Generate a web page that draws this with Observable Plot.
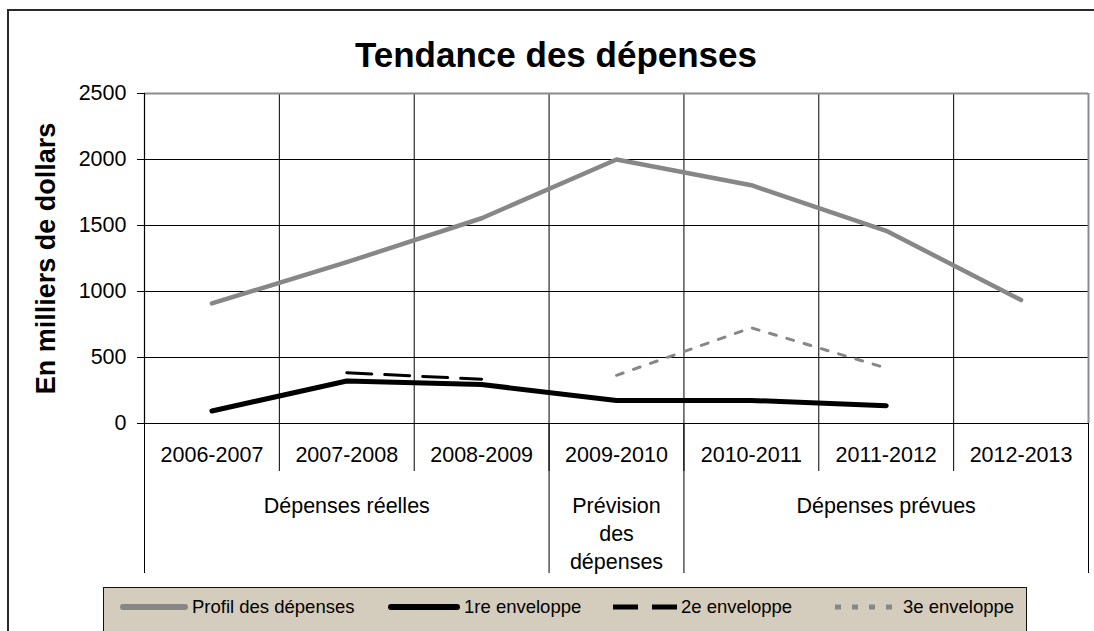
<!DOCTYPE html>
<html>
<head>
<meta charset="utf-8">
<script src="https://cdn.jsdelivr.net/npm/d3@7"></script>
<script src="https://cdn.jsdelivr.net/npm/@observablehq/plot@0.6"></script>
<style>
  html, body { margin: 0; padding: 0; background: #fff; }
  #chart { position: relative; width: 1094px; height: 631px; overflow: hidden; background: #fff;
           font-family: "Liberation Sans", Arial, sans-serif; color: #000; }
  #outer { position: absolute; left: 7px; top: 9px; width: 1300px; height: 900px; border: 2px solid #2a2a2a; box-sizing: border-box; }
  #title { position: absolute; left: 556px; top: 37px; transform: translateX(-50%); font-size: 35px; line-height: 35px; font-weight: bold; white-space: nowrap; }
  #plot { position: absolute; left: 0; top: 0; }
  #legend { position: absolute; left: 103px; top: 587px; width: 924px; height: 80px; box-sizing: border-box; border: 1.5px solid #111; background: #d4ccbc; }
  .item { position: absolute; top: 9px; height: 20px; font-size: 18.5px; line-height: 18.5px; white-space: nowrap; }
  .item svg { position: absolute; top: 0; }
  .item span { position: absolute; top: 1px; }
</style>
</head>
<body>
<div id="chart">
  <div id="outer"></div>
  <div id="plot"></div>
  <div id="title"></div>
  <div id="legend"></div>
</div>
<script>
// ---- data ----
const title = "Tendance des dépenses";
const yLabel = "En milliers de dollars";
const years = ["2006-2007", "2007-2008", "2008-2009", "2009-2010", "2010-2011", "2011-2012", "2012-2013"];
const profil = [910, 1222, 1555, 2000, 1805, 1460, 935];
const env1 = [95, 322, 295, 175, 175, 135, null];
const env2 = [null, 385, 335, null, null, null, null];
const env3 = [null, null, null, 365, 725, 420, null];
const yTicks = [0, 500, 1000, 1500, 2000, 2500];
const groupLabels = ["Dépenses réelles", "Prévision\ndes\ndépenses", "Dépenses prévues"];
const groupSpans = [3, 1, 3];
const seriesNames = ["Profil des dépenses", "1re enveloppe", "2e enveloppe", "3e enveloppe"];

// ---- derived ----
const boundaries = d3.range(years.length + 1);
const groupEdges = [0, ...d3.cumsum(groupSpans)];
const groupCenters = groupSpans.map((s, i) => groupEdges[i] + s / 2);
const pts = arr => arr.map((v, i) => ({x: i + 0.5, y: v})).filter(d => d.y != null);

const gray = "#878787";

document.getElementById("title").textContent = title;

const chart = Plot.plot({
  width: 1094,
  height: 585,
  marginLeft: 144,
  marginRight: 6,
  marginTop: 93,
  marginBottom: 162,
  x: {domain: [0, years.length]},
  y: {domain: [0, d3.max(yTicks)]},
  style: {fontFamily: "'Liberation Sans', Arial, sans-serif", fontSize: "21.5px", color: "#000", background: "transparent", overflow: "visible"},
  marks: [
    Plot.gridY(yTicks, {stroke: "#000", strokeOpacity: 1, strokeWidth: 1}),
    Plot.gridX(boundaries, {stroke: "#000", strokeOpacity: 1, strokeWidth: 1}),
    Plot.ruleY([d3.max(yTicks)], {stroke: "#8c8c8c", strokeWidth: 2}),
    Plot.ruleX([years.length], {stroke: "#8c8c8c", strokeWidth: 2}),
    Plot.ruleY([0], {stroke: "#000", strokeWidth: 1.2}),
    Plot.ruleX([0], {stroke: "#000", strokeWidth: 1.2}),
    Plot.axisY(yTicks, {tickSize: 7, tickPadding: 11, label: null, fontSize: 21.5, tickFormat: d => String(d)}),
    Plot.axisX(boundaries, {tickSize: 48, tickFormat: () => "", label: null}),
    Plot.axisX(groupEdges, {tickSize: 150, tickFormat: () => "", label: null}),
    Plot.text(years, {x: (d, i) => i + 0.5, text: d => d, frameAnchor: "bottom", dy: 32, lineAnchor: "middle", fontSize: 21.5}),
    Plot.text(groupLabels, {x: (d, i) => groupCenters[i], text: d => d, frameAnchor: "bottom", dy: 70, lineAnchor: "top", lineHeight: 1.3, fontSize: 21.5}),
    Plot.line(pts(profil), {x: "x", y: "y", stroke: gray, strokeWidth: 4.5, strokeLinecap: "round", strokeLinejoin: "round"}),
    Plot.line(pts(env1), {x: "x", y: "y", stroke: "#000", strokeWidth: 5, strokeLinecap: "round", strokeLinejoin: "round"}),
    Plot.line(pts(env2), {x: "x", y: "y", stroke: "#000", strokeWidth: 3, strokeDasharray: "25,13"}),
    Plot.line(pts(env3), {x: "x", y: "y", stroke: gray, strokeWidth: 3, strokeDasharray: "7,11"}),
    Plot.text([yLabel], {text: d => d, frameAnchor: "left", dx: -98, rotate: -90, textAnchor: "middle", lineAnchor: "middle", fontSize: 27, fontWeight: "bold"})
  ]
});
document.getElementById("plot").appendChild(chart);

// ---- legend ----
const legendLayout = [
  {left: 16, sw: 68, dash: null, color: gray, width: 6, cap: "round"},
  {left: 284, sw: 72, dash: null, color: "#000", width: 6, cap: "round"},
  {left: 509, sw: 64, dash: "25,14", color: "#000", width: 5, cap: "butt"},
  {left: 731, sw: 64, dash: "6,11", color: gray, width: 5, cap: "butt"}
];
const legend = document.getElementById("legend");
seriesNames.forEach((name, i) => {
  const L = legendLayout[i];
  const item = document.createElement("div");
  item.className = "item";
  item.style.left = L.left + "px";
  const ns = "http://www.w3.org/2000/svg";
  const svg = document.createElementNS(ns, "svg");
  svg.setAttribute("width", L.sw + 4);
  svg.setAttribute("height", 20);
  const ln = document.createElementNS(ns, "line");
  const pad = L.cap === "round" ? 3 : 0;
  ln.setAttribute("x1", pad); ln.setAttribute("x2", L.sw - pad);
  ln.setAttribute("y1", 10); ln.setAttribute("y2", 10);
  ln.setAttribute("stroke", L.color);
  ln.setAttribute("stroke-width", L.width);
  ln.setAttribute("stroke-linecap", L.cap);
  if (L.dash) ln.setAttribute("stroke-dasharray", L.dash);
  svg.appendChild(ln);
  item.appendChild(svg);
  const sp = document.createElement("span");
  sp.style.left = (L.sw + 4) + "px";
  sp.textContent = name;
  item.appendChild(sp);
  legend.appendChild(item);
});
</script>
</body>
</html>
